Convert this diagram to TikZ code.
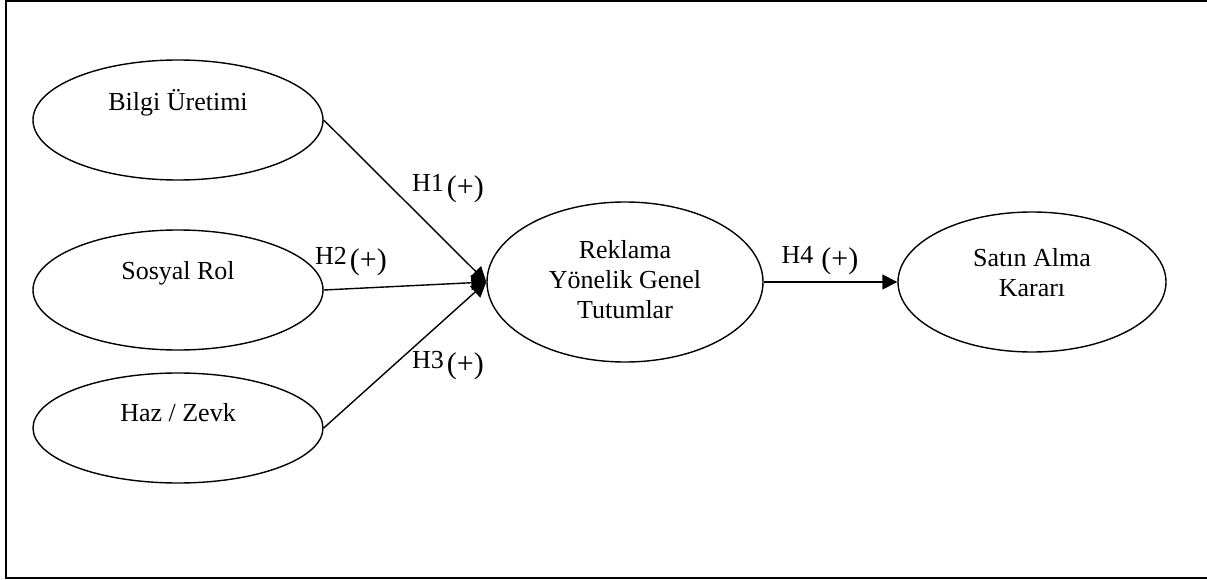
\documentclass[tikz,border=0pt]{standalone}
\usepackage{fontspec}
\setmainfont{Liberation Serif}
\usetikzlibrary{positioning}
\usetikzlibrary{arrows.meta}
\usetikzlibrary{shapes.geometric}

\newcommand{\plussign}{\raisebox{-5pt}{\fontsize{30pt}{30pt}\selectfont(+)}}

\begin{document}
\begin{tikzpicture}[x=1pt,y=-1pt,>={Triangle[length=15pt,width=15pt]},
    construct/.style={ellipse,draw,line width=1.4pt,inner sep=0pt},
    caption/.style={font=\fontsize{26pt}{30pt}\selectfont,align=center,inner sep=0pt},
    hyp/.style={font=\fontsize{26pt}{30pt}\selectfont,inner sep=0pt}]
      \useasboundingbox (0,0) rectangle (1207,580);
      \draw [line width=2.4pt] (1207,1) -- (6,1) -- (6,578) -- (1207,578);
      % constructs
      \node (bilgi)  [construct,minimum width=290pt,minimum height=120pt] at (178,120) {};
      \node (sosyal) [construct,minimum width=290pt,minimum height=120pt] at (178,290) {};
      \node (haz)    [construct,minimum width=290pt,minimum height=110pt] at (178,428) {};
      \node (tutum)  [construct,minimum width=276pt,minimum height=160pt] at (625,282) {};
      \node (satin)  [construct,minimum width=268pt,minimum height=140pt] at (1032,282) {};
      \node (bilgiT)  [caption] at (178,103) {Bilgi Üretimi};
      \node (sosyalT) [caption] at (178,273) {Sosyal Rol};
      \node (hazT)    [caption] at (178,413) {Haz / Zevk};
      \node (tutumT)  [caption] at (625,280) {Reklama\\Yönelik Genel\\Tutumlar};
      \node (satinT)  [caption] at (1032,273) {Satın Alma\\Kararı};
      % paths
      \draw [line width=1.4pt,->] (bilgi.east) -- (tutum.west);
      \draw [line width=1.4pt,->] (sosyal.east) -- (tutum.west);
      \draw [line width=1.4pt,->] (haz.east) -- (tutum.west);
      \draw [line width=1.4pt,->] (tutum.east) -- (satin.west);
      \node (h1) [hyp] at (448,189) {H1\kern3pt\plussign};
      \node (h2) [hyp] at (351,262) {H2\kern3pt\plussign};
      \node (h3) [hyp] at (448,366) {H3\kern3pt\plussign};
      \node (h4) [hyp] at (820,261) {H4\kern8pt\plussign};
    \end{tikzpicture}
\end{document}
